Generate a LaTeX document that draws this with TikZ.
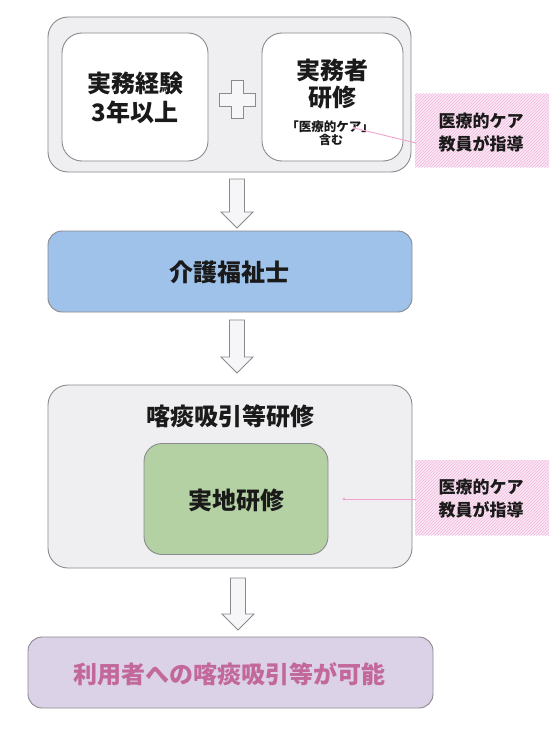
\documentclass[tikz,border=0pt]{standalone}
\usepackage{fontspec}
\setmainfont{Noto Sans CJK JP}
\usetikzlibrary{patterns}
\definecolor{outerfill}{HTML}{EFEEF1}
\definecolor{boxline}{HTML}{8A8A8E}
\definecolor{txt}{HTML}{1A1A1A}
\definecolor{bluefill}{HTML}{9EC2E9}
\definecolor{greenfill}{HTML}{B3D1A3}
\definecolor{purplefill}{HTML}{DCD2E7}
\definecolor{pinktxt}{HTML}{C2689A}
\definecolor{pinkbg}{HTML}{FAE6F3}
\definecolor{pinkhatch}{HTML}{F0BCDD}
\definecolor{pinkline}{HTML}{F2A3CF}
\definecolor{arrowfill}{HTML}{F6F6F8}
\tikzset{
  panel/.style={draw=boxline, line width=0.9pt, fill=outerfill, rounded corners=20pt},
  whitebox/.style={draw=boxline, line width=0.9pt, fill=white, rounded corners=20pt},
  colbox/.style={draw=boxline, line width=0.9pt, rounded corners=14pt},
  hollow/.style={draw=boxline, line width=0.8pt, fill=arrowfill},
  note/.style={fill=pinkbg, postaction={pattern=north east lines, pattern color=pinkhatch}},
  notetext/.style={text=txt, font=\bfseries\fontsize{17}{23}\selectfont, align=center},
  bigtext/.style={text=txt, font=\bfseries\fontsize{24}{29}\selectfont, align=center},
  pinkconn/.style={draw=pinkline, line width=0.9pt},
}
\newcommand{\downarrowshape}[4]{% name, x center, y top, y tip
  \draw[hollow] (#2-7.5,#3) -- (#2+7.5,#3) -- (#2+7.5,#4-16) -- (#2+16,#4-16)
    -- (#2,#4) -- (#2-16,#4-16) -- (#2-7.5,#4-16) -- cycle;
  \coordinate (#1) at (#2,#3);
}
\begin{document}
\begin{tikzpicture}[x=1pt,y=-1pt]
\useasboundingbox (0,0) rectangle (550,733);
\fill[white] (0,0) rectangle (550,733);

% ---- top panel
\draw[panel] (48,17) rectangle (411,172);
\node[minimum width=363pt, minimum height=155pt] (panel1) at (229.5,94.5) {};
\draw[whitebox] (62,33) rectangle (208,161);
\node[bigtext] (exp) at (135,98) {実務経験\\3年以上};
\draw[whitebox] (262,33) rectangle (403,161);
\node[bigtext, font=\bfseries\fontsize{24}{27}\selectfont] (train) at (332.5,84) {実務者\\研修};
\node[text=txt, font=\bfseries\fontsize{12.5}{12.5}\selectfont] (care) at (330,127) {「医療的ケア」};
\node[text=txt, font=\bfseries\fontsize{12}{12}\selectfont] (care2) at (331,140) {含む};
\coordinate (caredot) at (354,128);
% plus sign
\draw[hollow] (231,80) -- (243,80) -- (243,93) -- (255,93) -- (255,106) -- (243,106)
  -- (243,118) -- (231,118) -- (231,106) -- (219,106) -- (219,93) -- (231,93) -- cycle;
\coordinate (plus) at (237,99);

% note 1
\path[note] (415,94) rectangle (549,167);
\node[notetext] (note1) at (481,133) {医療的ケア\\教員が指導};
\coordinate (note1w) at (416,143);
\draw[pinkconn] (note1w) -- (caredot);
\fill[pinkline] (caredot) circle (1.3);

% arrow 1
\downarrowshape{a1}{237}{179}{228}

% ---- blue box
\node[colbox, fill=bluefill, minimum width=364pt, minimum height=81pt] (careworker) at (230,271.5) {};
\node[bigtext] (cwtext) at (229,272) {介護福祉士};

% arrow 2
\downarrowshape{a2}{237}{320}{373}

% ---- second panel
\draw[panel] (48,385) rectangle (412,568);
\node[bigtext] (suction) at (230,416) {喀痰吸引等研修};
\node[colbox, fill=greenfill, minimum width=184pt, minimum height=111pt, rounded corners=18pt] (field) at (236,499) {};
\node[bigtext] (fieldtext) at (236,500) {実地研修};

% note 2
\path[note] (415,460) rectangle (549,535);
\node[notetext] (note2) at (481,499) {医療的ケア\\教員が指導};
\coordinate (note2w) at (416,499);
\coordinate (fielddot) at (344,499);
\draw[pinkconn] (note2w) -- (fielddot);
\fill[pinkline] (fielddot) circle (1.3);

% arrow 3
\downarrowshape{a3}{238}{578}{630}

% ---- result
\node[colbox, fill=purplefill, minimum width=405pt, minimum height=71pt] (result) at (230.5,672.5) {};
\node[bigtext, text=pinktxt] (resulttext) at (229,674) {利用者への喀痰吸引等が可能};
\end{tikzpicture}
\end{document}
